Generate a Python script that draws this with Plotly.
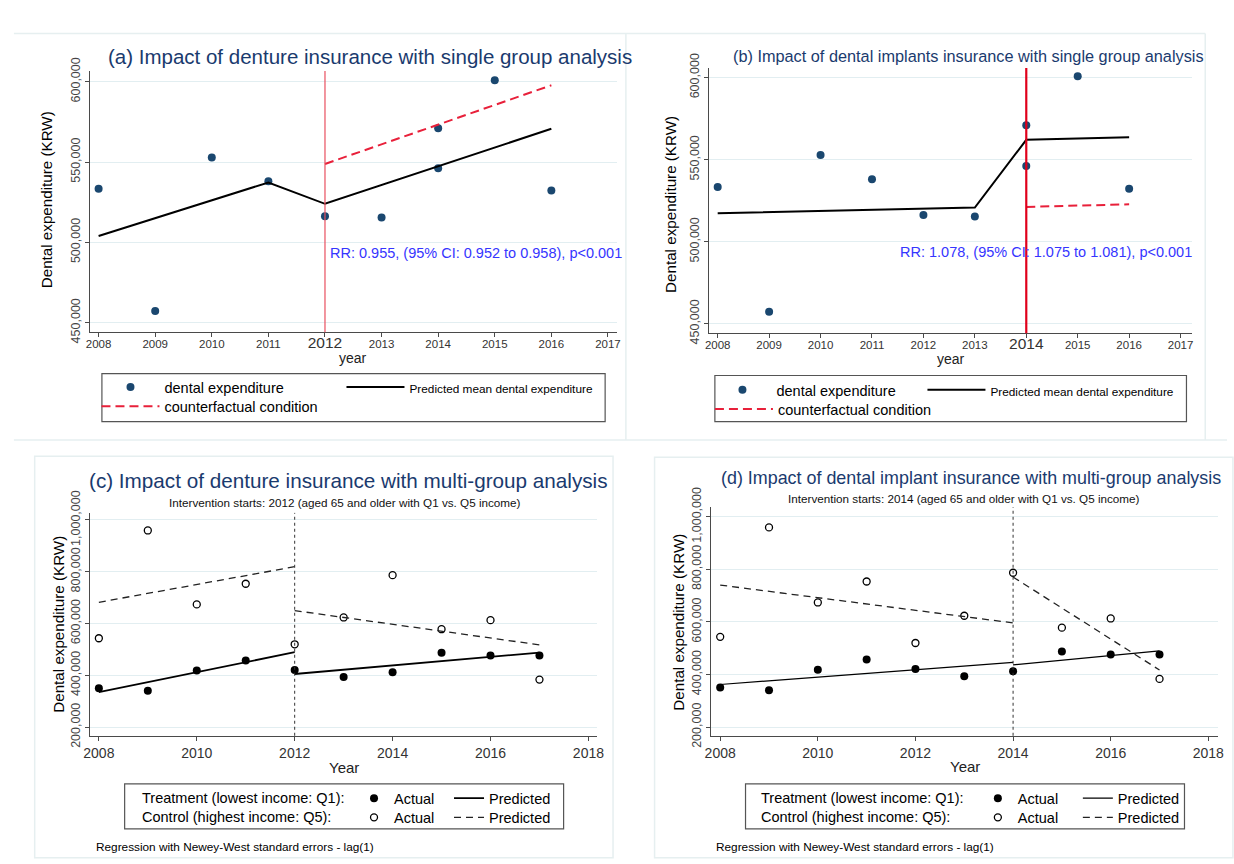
import plotly.graph_objects as go

W, H = 1234, 864

# ---------------- data ----------------
years_single = [2008, 2009, 2010, 2011, 2012, 2013, 2014, 2014, 2015, 2016]
dental_exp = [533300, 457300, 552800, 538100, 516300, 515400, 571000, 546200, 600900, 532300]

pred_a_years = [2008, 2011, 2012, 2016]
pred_a_vals = [504000, 537300, 524000, 570700]
cf_a_years = [2012, 2016]
cf_a_vals = [548800, 597800]

pred_b_years = [2008, 2013, 2014, 2016]
pred_b_vals = [517300, 520800, 562100, 563600]
cf_b_years = [2014, 2016]
cf_b_vals = [521200, 522800]

years_multi = [2008, 2009, 2010, 2011, 2012, 2013, 2014, 2015, 2016, 2017]
treat_actual = [350400, 340500, 418500, 457200, 421000, 393400, 412400, 487300, 476200, 476200]
control_actual = [543200, 959500, 674000, 753800, 519900, 623600, 787000, 578200, 613200, 383500]

c_pre_years = [2008, 2012]
c_post_years = [2012, 2017]
c_treat_pre = [334800, 489300]
c_treat_post = [405300, 488100]
c_ctrl_pre = [682200, 819500]
c_ctrl_post = [650100, 517800]

d_pre_years = [2008, 2014]
d_post_years = [2014, 2017]
d_treat_pre = [362200, 446300]
d_treat_post = [436600, 490200]
d_ctrl_pre = [740200, 596300]
d_ctrl_post = [770700, 417100]

intervention_a = 2012
intervention_b = 2014
intervention_c = 2012
intervention_d = 2014

xticks_single = [2008, 2009, 2010, 2011, 2012, 2013, 2014, 2015, 2016, 2017]
xticks_multi = [2008, 2010, 2012, 2014, 2016, 2018]
yticks_single = [450000, 500000, 550000, 600000]
yticks_multi = [200000, 400000, 600000, 800000, 1000000]

titles = [
    "(a) Impact of denture insurance with single group analysis",
    "(b) Impact of dental implants insurance with single group analysis",
    "(c) Impact of denture insurance with multi-group analysis",
    "(d) Impact of dental implant insurance with multi-group analysis",
]
subtitles = [
    "Intervention starts: 2012 (aged 65 and older with Q1 vs. Q5 income)",
    "Intervention starts: 2014 (aged 65 and older with Q1 vs. Q5 income)",
]
rr_texts = [
    "RR: 0.955, (95% CI: 0.952 to 0.958), p<0.001",
    "RR: 1.078, (95% CI: 1.075 to 1.081), p<0.001",
]
footnote = "Regression with Newey-West standard errors - lag(1)"

# ---------------- style ----------------
FONT = "Arial, Liberation Sans, sans-serif"
NAVY = "#1a3a6e"
DOT = "#1a476f"
RED = "#e8203a"
GRID = "#e2eef1"
AXC = "#4a4a4a"
CF_DASH = "9px,5px"
CTRL_DASH = "7px,5px"


def px(x):
    return x / W


def py(y):
    return 1 - y / H


fig = go.Figure()

PRED_NAME = '<span style="font-size:11.8px">Predicted mean dental expenditure</span>'

# ---- panel (a) ----
fig.add_trace(go.Scatter(x=years_single, y=dental_exp, mode="markers",
                         marker=dict(color=DOT, size=8), name="dental expenditure",
                         xaxis="x", yaxis="y", legend="legend", legendwidth=172))
fig.add_trace(go.Scatter(x=pred_a_years, y=pred_a_vals, mode="lines",
                         line=dict(color="black", width=2), name=PRED_NAME,
                         xaxis="x", yaxis="y", legend="legend"))
fig.add_trace(go.Scatter(x=cf_a_years, y=cf_a_vals, mode="lines",
                         line=dict(color=RED, width=2, dash=CF_DASH),
                         name="counterfactual condition", xaxis="x", yaxis="y", legend="legend2"))

# ---- panel (b) ----
fig.add_trace(go.Scatter(x=years_single, y=dental_exp, mode="markers",
                         marker=dict(color=DOT, size=8), name="dental expenditure",
                         xaxis="x2", yaxis="y2", legend="legend3", legendwidth=141))
fig.add_trace(go.Scatter(x=pred_b_years, y=pred_b_vals, mode="lines",
                         line=dict(color="black", width=2), name=PRED_NAME,
                         xaxis="x2", yaxis="y2", legend="legend3"))
fig.add_trace(go.Scatter(x=cf_b_years, y=cf_b_vals, mode="lines",
                         line=dict(color=RED, width=2, dash=CF_DASH),
                         name="counterfactual condition", xaxis="x2", yaxis="y2", legend="legend4"))


# ---- panels (c) and (d) ----
def multi(xa, ya, pre_years, post_years, t_pre, t_post, c_pre, c_post, lg1, lg2, twidth, lw):
    fig.add_trace(go.Scatter(x=years_multi, y=treat_actual, mode="markers",
                             marker=dict(color="black", size=8), name="Actual",
                             xaxis=xa, yaxis=ya, legend=lg1, legendwidth=lw))
    fig.add_trace(go.Scatter(x=pre_years, y=t_pre, mode="lines",
                             line=dict(color="black", width=twidth), name="Predicted",
                             xaxis=xa, yaxis=ya, legend=lg1))
    fig.add_trace(go.Scatter(x=post_years, y=t_post, mode="lines",
                             line=dict(color="black", width=twidth), showlegend=False,
                             xaxis=xa, yaxis=ya))
    fig.add_trace(go.Scatter(x=years_multi, y=control_actual, mode="markers",
                             marker=dict(color="white", size=7, line=dict(color="black", width=1.3)),
                             name="Actual", xaxis=xa, yaxis=ya, legend=lg2, legendwidth=lw))
    fig.add_trace(go.Scatter(x=pre_years, y=c_pre, mode="lines",
                             line=dict(color="#222", width=1.3, dash=CTRL_DASH), name="Predicted",
                             xaxis=xa, yaxis=ya, legend=lg2))
    fig.add_trace(go.Scatter(x=post_years, y=c_post, mode="lines",
                             line=dict(color="#222", width=1.3, dash=CTRL_DASH), showlegend=False,
                             xaxis=xa, yaxis=ya))


multi("x3", "y3", c_pre_years, c_post_years, c_treat_pre, c_treat_post, c_ctrl_pre, c_ctrl_post,
      "legend5", "legend6", 1.8, 50)
multi("x4", "y4", d_pre_years, d_post_years, d_treat_pre, d_treat_post, d_ctrl_pre, d_ctrl_post,
      "legend7", "legend8", 1.2, 55)


# ---------------- axes ----------------
def xax(dom, rng, tickvals, ticktext, anchor, fs, standoff):
    return dict(domain=[px(dom[0]), px(dom[1])], range=rng, anchor=anchor,
                tickvals=tickvals, ticktext=ticktext, showline=True, linecolor=AXC, linewidth=1,
                ticks="outside", ticklen=4, tickcolor=AXC, showgrid=False, zeroline=False,
                ticklabelstandoff=standoff,
                tickfont=dict(family=FONT, size=fs, color="#333"))


def yax(dom, rng, tickvals, anchor, fs):
    return dict(domain=[py(dom[1]), py(dom[0])], range=rng, anchor=anchor,
                tickvals=tickvals, tickformat=",d", tickangle=-90,
                showline=True, linecolor=AXC, linewidth=1,
                ticks="outside", ticklen=4, tickcolor=AXC, showgrid=True, gridcolor=GRID,
                gridwidth=1, zeroline=False, tickfont=dict(family=FONT, size=fs, color="#444"))


def single_ticktext(interv):
    return [f'<span style="font-size:15.5px">{t}</span>' if t == interv else str(t)
            for t in xticks_single]


layout = dict(
    width=W, height=H, margin=dict(l=0, r=0, t=0, b=0),
    paper_bgcolor="white", plot_bgcolor="white",
    font=dict(family=FONT, color="black"),
    xaxis=xax((83.5, 617), [2007.84, 2017.16], xticks_single, single_ticktext(intervention_a), "y", 11.5, -3),
    yaxis=yax((51, 323), [444000, 606700], yticks_single, "x", 12.5),
    xaxis2=xax((710, 1199), [2007.83, 2017.23], xticks_single, single_ticktext(intervention_b), "y2", 11.5, -3),
    yaxis2=yax((48, 324), [444200, 605800], yticks_single, "x2", 12.5),
    xaxis3=xax((84, 597), [2007.82, 2018.18], xticks_multi, [str(t) for t in xticks_multi], "y3", 14, 0),
    yaxis3=yax((511, 743), [166700, 1027400], yticks_multi, "x3", 12.5),
    xaxis4=xax((712, 1225), [2007.81, 2018.2], xticks_multi, [str(t) for t in xticks_multi], "y4", 14, 0),
    yaxis4=yax((505, 743), [167200, 1036500], yticks_multi, "x4", 12.5),
)


def leg(x, y, fs, iw):
    return dict(orientation="h", x=px(x), y=py(y), xanchor="left", yanchor="middle",
                bgcolor="rgba(0,0,0,0)", borderwidth=0, itemwidth=iw,
                font=dict(family=FONT, size=fs, color="black"), itemclick=False,
                itemdoubleclick=False, tracegroupgap=0)


layout["legend"] = leg(90.5, 380, 14.5, 58)
layout["legend2"] = leg(90.5, 400, 14.5, 58)
layout["legend3"] = leg(709.5, 383, 14.5, 58)
layout["legend4"] = leg(711, 403, 14.5, 58)
layout["legend5"] = leg(351, 808, 14.5, 30)
layout["legend6"] = leg(351, 828, 14.5, 30)
layout["legend7"] = leg(982, 808, 14.5, 30)
layout["legend8"] = leg(982, 828, 14.5, 30)

fig.update_layout(**layout)

# ---------------- shapes ----------------
shapes = []
FR = "#e6eff0"
shapes += [
    dict(type="line", xref="paper", yref="paper", x0=px(7), x1=px(1212), y0=py(12), y1=py(12),
         line=dict(color=FR, width=1.5)),
    dict(type="line", xref="paper", yref="paper", x0=px(626), x1=px(626), y0=py(12), y1=py(435),
         line=dict(color=FR, width=1.5)),
    dict(type="line", xref="paper", yref="paper", x0=px(1212), x1=px(1212), y0=py(12), y1=py(435),
         line=dict(color=FR, width=1.5)),
    dict(type="line", xref="paper", yref="paper", x0=px(7), x1=px(1234), y0=py(435), y1=py(435),
         line=dict(color=FR, width=1.5)),
    dict(type="rect", xref="paper", yref="paper", x0=px(28), x1=px(613), y0=py(452), y1=py(870),
         line=dict(color=FR, width=1.5)),
    dict(type="rect", xref="paper", yref="paper", x0=px(655), x1=px(1240), y0=py(453), y1=py(870),
         line=dict(color=FR, width=1.5)),
]
for (x0, y0, x1, y1) in [(96, 366, 605, 416), (716, 368, 1193, 416), (119, 793, 563, 840), (747, 793, 1191, 840)]:
    shapes.append(dict(type="rect", xref="paper", yref="paper", x0=px(x0), x1=px(x1), y0=py(y0), y1=py(y1),
                       line=dict(color="#555", width=1.2), fillcolor="rgba(0,0,0,0)"))
shapes.append(dict(type="line", xref="x", yref="y domain", x0=intervention_a, x1=intervention_a, y0=0, y1=1,
                   line=dict(color="#e8505f", width=1.2)))
shapes.append(dict(type="line", xref="x2", yref="y2 domain", x0=intervention_b, x1=intervention_b, y0=0, y1=1,
                   line=dict(color="#e0001b", width=2.2)))
shapes.append(dict(type="line", xref="x3", yref="y3 domain", x0=intervention_c, x1=intervention_c, y0=0, y1=1,
                   line=dict(color="#333", width=1, dash="3px,3px")))
shapes.append(dict(type="line", xref="x4", yref="y4 domain", x0=intervention_d, x1=intervention_d, y0=0, y1=1,
                   line=dict(color="#333", width=1, dash="3px,3px")))
fig.update_layout(shapes=shapes)

# ---------------- annotations ----------------
ann = []


def text(x, y, s, size, color="black", xanchor="left", angle=0):
    ann.append(dict(x=px(x), y=py(y), xref="paper", yref="paper", text=s, showarrow=False,
                    xanchor=xanchor, yanchor="middle", textangle=angle,
                    font=dict(family=FONT, size=size, color=color)))


text(100, 36, titles[0], 20.5, NAVY)
text(732, 35, titles[1], 16.3, NAVY)
text(81, 477, titles[2], 20.7, NAVY)
text(720, 475, titles[3], 17.9, NAVY)
text(342, 500, subtitles[0], 11.7, "#111", "center")
text(968, 496, subtitles[1], 11.7, "#111", "center")

text(40, 185, "Dental expenditure (KRW)", 15.2, "black", "center", -90)
text(671, 190, "Dental expenditure (KRW)", 15.2, "black", "center", -90)
text(52, 627, "Dental expenditure (KRW)", 15.2, "black", "center", -90)
text(679, 625, "Dental expenditure (KRW)", 15.2, "black", "center", -90)

text(350, 350, "year", 14, "#222", "center")
text(955, 351, "year", 14, "#222", "center")
text(341, 776, "Year", 15, "#222", "center")
text(969, 775, "Year", 15, "#222", "center")

text(325, 240, rr_texts[0], 14.5, "#3535ff")
text(901, 239, rr_texts[1], 14.5, "#3535ff")

text(135, 808, "Treatment (lowest income: Q1):", 14.5)
text(135, 828, "Control (highest income: Q5):", 14.5)
text(761, 808, "Treatment (lowest income: Q1):", 14.5)
text(761, 828, "Control (highest income: Q5):", 14.5)

text(88, 859, footnote, 11.8)
text(715, 859, footnote, 11.8)

fig.update_layout(annotations=ann)

fig.write_html("out.html", config={"displayModeBar": False},
               post_script="document.body.style.margin='0px';")
